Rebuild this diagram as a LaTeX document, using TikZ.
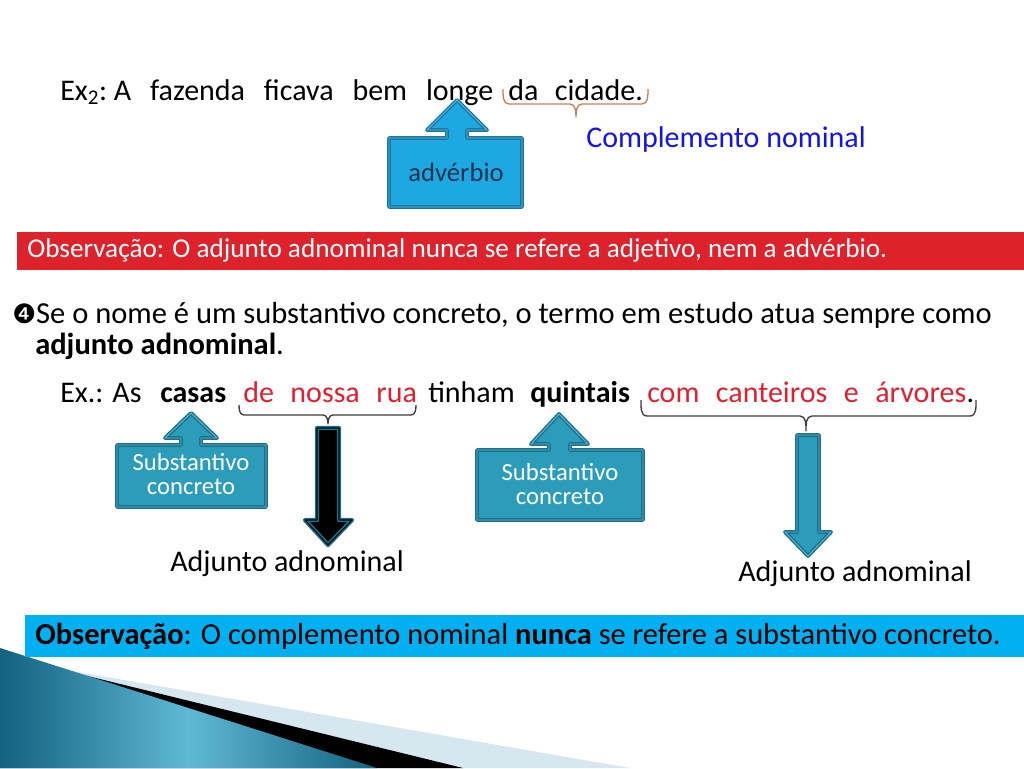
\documentclass[tikz,border=0pt]{standalone}
\usepackage{fontspec}
\setmainfont{Carlito}
\newfontfamily\dejavu{DejaVu Sans}
\definecolor{redtxt}{RGB}{222,32,48}
\definecolor{redbar}{RGB}{221,34,44}
\definecolor{bluetxt}{RGB}{20,20,230}
\definecolor{cyanbar}{RGB}{0,176,240}
\definecolor{advfill}{RGB}{30,168,225}
\definecolor{advline}{RGB}{30,118,158}
\definecolor{advinner}{RGB}{80,190,235}
\definecolor{advtext}{RGB}{25,50,80}
\definecolor{tealfill}{RGB}{44,156,187}
\definecolor{tealline}{RGB}{30,112,138}
\definecolor{tealinner}{RGB}{90,185,210}
\definecolor{bracebrown}{RGB}{190,130,100}
\definecolor{bracegray}{RGB}{60,60,60}
\definecolor{decodark}{RGB}{18,98,128}
\definecolor{decolight}{RGB}{95,185,212}
\definecolor{decopale}{RGB}{214,231,240}
\newcommand\mainsize{\fontsize{22.5}{27}\selectfont}
\newcommand\widesp{\spaceskip=0.55em plus 0.1em\relax}
\newcommand\widerspace{\spaceskip=0.63em plus 0.1em\relax}
\begin{document}
\begin{tikzpicture}[x=0.75pt,y=-0.75pt,
  txt/.style={inner sep=0pt, anchor=base west, font=\mainsize},
  bartxt/.style={inner sep=0pt, anchor=base west},
  brc/.style={line width=1pt, line join=round},
  upbox/.style={fill=advfill, draw=advline, double=advinner, double distance=0.7pt, line width=1.1pt, line join=round},
  tealbox/.style={fill=tealfill, draw=tealline, double=tealinner, double distance=0.7pt, line width=1.1pt, line join=round},
  blackarrow/.style={fill=black, draw=tealline, double=black, double distance=0.8pt, line width=1.2pt, line join=round},
  boxtxt/.style={inner sep=0pt, align=center, text=white, font=\fontsize{18.5}{18}\selectfont},
]
\useasboundingbox (0,0) rectangle (1024,768);

% bottom-left decoration
\fill[decopale] (55,668) -- (630,768) -- (0,768) -- cycle;
\fill[black] (55,668) -- (463,768) -- (0,768) -- cycle;
\shade[left color=decodark, right color=decodark, middle color=decolight] (0,648) -- (377,768) -- (0,768) -- cycle;

% Ex2 line
\node[txt] (ex2) at (60,100) {\widerspace Ex\textsubscript{2}:\kern0.22em A fazenda ficava bem longe};
\node[txt] (cid) at (508,100) {\widesp da cidade.};
\coordinate (b1l) at (503,89);
\coordinate (b1r) at (648,89);
\coordinate (b1m) at (576,117);
\draw[brc, draw=bracebrown] (b1l) to[out=-90,in=180] (509,104) -- (570,104) to[out=0,in=90] (b1m)
  to[out=90,in=180] (582,104) -- (642,104) to[out=0,in=-90] (b1r);
\node[txt, text=bluetxt] (cn) at (586,147) {Complemento nominal};

% advérbio callout
\draw[upbox] (389,138) -- (447,138) -- (447,130) -- (427,130) -- (457,100) -- (487,130) -- (467,130) -- (467,138) -- (522,138) -- (522,207) -- (389,207) -- cycle;
\node[inner sep=0pt, text=advtext, font=\fontsize{20}{20}\selectfont] (adv) at (456,172) {advérbio};

% red bar
\fill[redbar] (17,232) rectangle (1024,270);
\node[bartxt, text=white, font=\fontsize{20.4}{22}\selectfont] (obs1) at (27,257) {Observação: O adjunto adnominal nunca se refere a adjetivo, nem a advérbio.};

% item 4
\node[txt, font=\fontsize{22.9}{27}\selectfont] (se) at (12,323) {{\dejavu\fontsize{20}{20}\selectfont ❹}Se o nome é um substantivo concreto, o termo em estudo atua sempre como};
\node[txt, font=\fontsize{22.9}{27}\selectfont] (se2) at (35,354) {\textbf{adjunto adnominal}.};

% Ex line
\node[txt] (exa) at (60,402) {\widesp Ex.:\kern0.3em As};
\node[txt, font=\mainsize\bfseries] (casas) at (160,402) {casas};
\node[txt, text=redtxt] (nossa) at (243,402) {\widesp de nossa rua};
\node[txt] (tinham) at (428,402) {tinham};
\node[txt, font=\mainsize\bfseries] (quint) at (530,402) {quintais};
\node[txt, text=redtxt] (cant) at (647,402) {\widesp com canteiros e árvores};
\node[txt] (dot) at (cant.base east) {.};

\coordinate (b2l) at (239,405);
\coordinate (b2r) at (416,405);
\coordinate (b2m) at (328,424);
\draw[brc, draw=bracegray] (b2l) to[out=-90,in=180] (244,415) -- (323,415) to[out=0,in=90] (b2m)
  to[out=90,in=180] (333,415) -- (411,415) to[out=0,in=-90] (b2r);
\coordinate (b3l) at (641,400);
\coordinate (b3r) at (976,400);
\coordinate (b3m) at (806,431);
\draw[brc, draw=bracegray] (b3l) to[out=-90,in=180] (647,416) -- (800,416) to[out=0,in=90] (b3m)
  to[out=90,in=180] (812,416) -- (970,416) to[out=0,in=-90] (b3r);

% Substantivo concreto callouts
\draw[tealbox] (117,445) -- (181,445) -- (181,438) -- (165,438) -- (191,413) -- (217,438) -- (201,438) -- (201,445) -- (266,445) -- (266,507) -- (117,507) -- cycle;
\node[boxtxt] (sc1) at (191,474) {Substantivo\\concreto};
\draw[tealbox] (477,450) -- (549,450) -- (549,444) -- (531,444) -- (559,414) -- (588,444) -- (570,444) -- (570,450) -- (643,450) -- (643,520) -- (477,520) -- cycle;
\node[boxtxt] (sc2) at (560,484) {Substantivo\\concreto};

% down arrows
\draw[blackarrow] (317,428) -- (339,428) -- (339,520) -- (352,520) -- (328,545) -- (305,520) -- (317,520) -- cycle;
\draw[tealbox] (797,435) -- (819,435) -- (819,532) -- (831,532) -- (808,556) -- (785,532) -- (797,532) -- cycle;

\node[txt] (aa1) at (170,571) {Adjunto adnominal};
\node[txt] (aa2) at (738,581) {Adjunto adnominal};

% blue bar
\fill[cyanbar] (25,615) rectangle (1024,657);
\node[bartxt, font=\fontsize{22.85}{26}\selectfont] (obs2) at (35,644) {\textbf{Observação}: O complemento nominal \textbf{nunca} se refere a substantivo concreto.};
\end{tikzpicture}
\end{document}
